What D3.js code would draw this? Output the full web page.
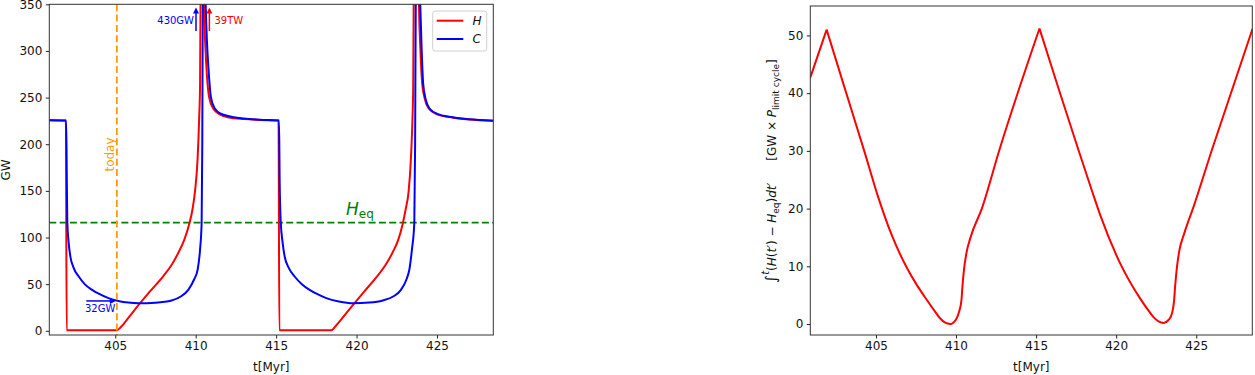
<!DOCTYPE html>
<html>
<head>
<meta charset="utf-8">
<script src="https://cdn.jsdelivr.net/npm/d3@7"></script>
<style>
  body { margin: 0; background: #fff; }
  svg { font-family: "DejaVu Sans", sans-serif; }
</style>
</head>
<body>
<svg id="graph"></svg>
<script>

var graphWidth = 1255;
var graphHeight = 375;

// tick values
var tTicks = [405, 410, 415, 420, 425];
var gwTicks = [0, 50, 100, 150, 200, 250, 300, 350];
var intTicks = [0, 10, 20, 30, 40, 50];

// H (red) in GW
var hTime = [400.9, 401.93, 401.98, 405.1, 405.35, 405.8, 406.44, 407.2, 408.0, 408.5, 408.93, 409.3, 409.59, 409.8, 409.96, 410.12, 410.22, 410.27, 410.3, 410.4, 410.52, 410.6, 410.7, 410.84, 411.1, 411.5, 412.0, 413.0, 414.0, 415.15,
             415.2, 418.43, 418.65, 419.2, 419.77, 420.5, 421.21, 421.8, 422.24, 422.6, 422.86, 423.05, 423.24, 423.38, 423.48, 423.52, 423.55, 423.72, 423.88, 423.96, 424.08, 424.25, 424.5, 425.0, 426.0, 427.0, 428.5];
var hPower = [225.6, 225.4, 0.5, 0.5, 4, 13.5, 27.5, 43, 59, 70.5, 84, 98, 114, 130, 150, 185, 230, 262, 350, 39000, 350, 305, 273, 250, 238, 232, 229, 227, 226, 225.4,
              0.5, 0.5, 4, 15.5, 27.5, 42.5, 57, 70.5, 84, 98, 114, 130, 150, 185, 230, 262, 350, 39000, 350, 305, 265, 248, 238, 232, 228.5, 226.5, 225.3];

// C (blue) in GW
var cTime = [400.9, 401.95, 401.99, 402.02, 402.1, 402.21, 402.4, 402.73, 403.1, 403.56, 404.0, 404.58, 405.2, 405.8, 406.44, 407.5, 408.5, 409.1, 409.54, 409.9, 410.12, 410.27, 410.37, 410.41, 410.44, 410.53, 410.62, 410.7, 410.8, 410.95, 411.2, 411.6, 412.0, 413.0, 414.0,
             415.18, 415.22, 415.29, 415.4, 415.53, 415.8, 416.15, 416.6, 417.08, 417.6, 418.12, 418.9, 419.77, 420.8, 421.63, 422.3, 422.76, 423.1, 423.28, 423.44, 423.59, 423.64, 423.68, 423.82, 423.96, 424.04, 424.14, 424.3, 424.55, 425.1, 425.75, 427.0, 428.5];
var cPower = [225.6, 225.4, 160, 116, 95, 79.6, 68, 58.2, 50, 43.9, 39.5, 35, 32, 30.3, 29.6, 30.2, 32.5, 37, 43.9, 55, 65.4, 86.8, 116, 200, 350, 430, 350, 310, 280, 250, 238, 232.5, 230.3, 227.6, 226.3,
              225.4, 160, 116, 95, 79.6, 67, 58.2, 50, 43.9, 39, 35, 31.5, 29.6, 30.3, 32.5, 37, 43.9, 55, 65.4, 86.8, 116, 200, 350, 430, 350, 305, 265, 248, 238, 232, 229.5, 226.8, 225.3];

// running integral of H - Heq (right panel)
var intTime = [400.9, 401.92, 403.0, 404.3, 405.15, 406.0, 406.92, 407.5, 408.17, 408.6, 409.0, 409.3, 409.63, 410.0, 410.2, 410.34, 410.4, 410.5, 410.65, 410.88, 411.61, 412.71, 415.21,
               416.4, 417.64, 418.45, 419.0, 420.25, 421.5, 422.0, 422.33, 422.65, 422.96, 423.3, 423.5, 423.62, 423.68, 423.8, 423.95, 424.25, 424.83, 425.98, 428.52];
var intValue = [42.7, 51.0, 41.3, 29.7, 21.9, 15.3, 9.8, 7.0, 4.2, 2.5, 1.0, 0.27, 0.0, 0.8, 2.2, 4.2, 6.5, 9.5, 12.3, 14.8, 20.0, 30.2, 51.2,
                40.8, 30.2, 23.4, 18.9, 10.5, 4.4, 2.4, 1.2, 0.45, 0.2, 0.8, 2.0, 4.2, 6.5, 10.0, 12.8, 15.7, 20.3, 30.2, 51.2];

var hEq = 116;
var today = 405.1;
var cPeakLabel = "430GW", hPeakLabel = "39TW", cMinLabel = "32GW";
var cMin = 32;

var graph = d3.select('#graph')
              .attr("width", graphWidth)
              .attr("height", graphHeight);

function zip(a, b) { return a.map(function(d, i) { return [d, b[i]]; }); }

/* draws one axes box with ticks, returns scales + clipped group */
function makeAxes(id, left, right, top, bottom, yDomain, yTicks) {
  var x = d3.scaleLinear().domain([400.9, 428.5]).range([left, right]);
  var y = d3.scaleLinear().domain(yDomain).range([bottom, top]);

  graph.append("clipPath").attr("id", id)
       .append("rect").attr("x", left).attr("y", top)
       .attr("width", right - left).attr("height", bottom - top);

  var xAxis = graph.append("g").attr("transform", "translate(0," + bottom + ")")
                   .call(d3.axisBottom(x).tickValues(tTicks).tickSize(3.5).tickPadding(3));
  var yAxis = graph.append("g").attr("transform", "translate(" + left + ",0)")
                   .call(d3.axisLeft(y).tickValues(yTicks).tickSize(3.5).tickPadding(3.5));
  [xAxis, yAxis].forEach(function(a) {
    a.select(".domain").remove();
    a.selectAll("text").attr("font-size", 12).attr("font-family", "DejaVu Sans").attr("fill", "#111");
    a.selectAll("line").attr("stroke", "#222");
  });

  var plot = graph.append("g").attr("clip-path", "url(#" + id + ")");
  return { x: x, y: y, plot: plot, left: left, right: right, top: top, bottom: bottom };
}

function frame(ax) {
  graph.append("rect").attr("x", ax.left).attr("y", ax.top)
       .attr("width", ax.right - ax.left).attr("height", ax.bottom - ax.top)
       .attr("fill", "none").attr("stroke", "#333").attr("stroke-width", 1);
}

function arrow(x1, y1, x2, y2, color) {
  var ang = Math.atan2(y2 - y1, x2 - x1), h = 6, w = 3;
  graph.append("line").attr("x1", x1).attr("y1", y1)
       .attr("x2", x2 - Math.cos(ang) * 2).attr("y2", y2 - Math.sin(ang) * 2)
       .attr("stroke", color).attr("stroke-width", 1.5);
  var p1 = [x2 - h * Math.cos(ang) + w * Math.sin(ang), y2 - h * Math.sin(ang) - w * Math.cos(ang)];
  var p2 = [x2 - h * Math.cos(ang) - w * Math.sin(ang), y2 - h * Math.sin(ang) + w * Math.cos(ang)];
  graph.append("path").attr("d", "M" + p1 + "L" + x2 + "," + y2 + "L" + p2 + "Z").attr("fill", color);
}

/* smooth between sharp peaks: split the series at its local maxima */
function peakedPath(line, pts) {
  var pieces = [], start = 0;
  for (var i = 1; i < pts.length - 1; i++) {
    if (pts[i][1] > pts[i - 1][1] && pts[i][1] > pts[i + 1][1]) {
      pieces.push(pts.slice(start, i + 1));
      start = i;
    }
  }
  pieces.push(pts.slice(start));
  return pieces.map(function(p) { return line(p); }).join("");
}

/* ---------------- left panel ---------------- */
var ax1 = makeAxes("clipL", 49.3, 493.3, 4.3, 335, [-4.5, 350], gwTicks);

var line1 = d3.line().x(function(d) { return ax1.x(d[0]); })
                     .y(function(d) { return ax1.y(d[1]); })
                     .curve(d3.curveMonotoneX);

ax1.plot.append("line")
   .attr("x1", ax1.left).attr("x2", ax1.right)
   .attr("y1", ax1.y(hEq)).attr("y2", ax1.y(hEq))
   .attr("stroke", "#008000").attr("stroke-width", 1.8).attr("stroke-dasharray", "7,3.3");

ax1.plot.append("path").datum(zip(hTime, hPower))
   .attr("d", line1).attr("fill", "none").attr("stroke", "#ff0000").attr("stroke-width", 2);
ax1.plot.append("path").datum(zip(cTime, cPower))
   .attr("d", line1).attr("fill", "none").attr("stroke", "#0000ff").attr("stroke-width", 2);

ax1.plot.append("line")
   .attr("x1", ax1.x(today)).attr("x2", ax1.x(today))
   .attr("y1", ax1.top).attr("y2", ax1.bottom)
   .attr("stroke", "#ff9a0a").attr("stroke-width", 1.8).attr("stroke-dasharray", "7,3.3");

frame(ax1);

graph.append("text").attr("transform", "translate(113.5,154.5) rotate(-90)")
     .attr("text-anchor", "middle").attr("font-size", 12).attr("fill", "#ff9a0a").text("today");

var heq = graph.append("text").attr("x", 346).attr("y", 215).attr("fill", "#008000").attr("font-size", 17);
heq.append("tspan").attr("font-style", "italic").text("H");
heq.append("tspan").attr("font-size", 12).attr("dy", 3).text("eq");

graph.append("text").attr("x", 9.5).attr("y", 170).attr("transform", "rotate(-90,9.5,170)")
     .attr("text-anchor", "middle").attr("font-size", 12).attr("fill", "#111").text("GW");
graph.append("text").attr("x", (ax1.left + ax1.right) / 2).attr("y", 371)
     .attr("text-anchor", "middle").attr("font-size", 12).attr("fill", "#111").text("t[Myr]");

// peak annotations
graph.append("text").attr("x", 194).attr("y", 24).attr("text-anchor", "end")
     .attr("font-size", 10).attr("fill", "#0000ff").text(cPeakLabel);
arrow(ax1.x(410.02), 31, ax1.x(410.02), 7.5, "#0000ff");
graph.append("text").attr("x", 214.5).attr("y", 24)
     .attr("font-size", 10).attr("fill", "#ff0000").text(hPeakLabel);
arrow(ax1.x(410.85), 31, ax1.x(410.85), 7.5, "#ff0000");
graph.append("text").attr("x", 85).attr("y", 311.5)
     .attr("font-size", 10).attr("fill", "#0000ff").text(cMinLabel);
arrow(ax1.x(403.2), ax1.y(cMin), ax1.x(today) - 1, ax1.y(cMin), "#0000ff");

// legend
var legend = graph.append("g");
legend.append("rect").attr("x", 432.7).attr("y", 11).attr("width", 54).attr("height", 40)
      .attr("rx", 2.5).attr("fill", "#fff").attr("fill-opacity", 0.8).attr("stroke", "#d0d0d0");
[["H", "#ff0000", 20.7], ["C", "#0000ff", 39]].forEach(function(d) {
  legend.append("line").attr("x1", 436.7).attr("x2", 463.3).attr("y1", d[2]).attr("y2", d[2])
        .attr("stroke", d[1]).attr("stroke-width", 2);
  legend.append("text").attr("x", 472.5).attr("y", d[2] + 4.4).attr("font-size", 12)
        .attr("font-style", "italic").attr("fill", "#111").text(d[0]);
});

/* ---------------- right panel ---------------- */
var ax2 = makeAxes("clipR", 810.3, 1252.3, 6, 335, [-1.9, 55.1], intTicks);

var line2 = d3.line().x(function(d) { return ax2.x(d[0]); })
                     .y(function(d) { return ax2.y(d[1]); })
                     .curve(d3.curveMonotoneX);

ax2.plot.append("path")
   .attr("d", peakedPath(line2, zip(intTime, intValue)))
   .attr("fill", "none").attr("stroke", "#ff0000").attr("stroke-width", 2);

frame(ax2);

graph.append("text").attr("x", (ax2.left + ax2.right) / 2).attr("y", 371)
     .attr("text-anchor", "middle").attr("font-size", 12).attr("fill", "#111").text("t[Myr]");

var ylab = graph.append("text").attr("transform", "translate(776,171) rotate(-90)")
                .attr("text-anchor", "middle").attr("font-size", 12).attr("fill", "#111");
ylab.append("tspan").attr("font-size", 15).text("∫");
ylab.append("tspan").attr("font-size", 10).attr("font-style", "italic").attr("dy", -7).text("t");
ylab.append("tspan").attr("dy", 7).text("(");
ylab.append("tspan").attr("font-style", "italic").text("H");
ylab.append("tspan").text("(");
ylab.append("tspan").attr("font-style", "italic").text("t′");
ylab.append("tspan").text(") − ");
ylab.append("tspan").attr("font-style", "italic").text("H");
ylab.append("tspan").attr("font-size", 9).attr("dy", 2.5).text("eq");
ylab.append("tspan").attr("dy", -2.5).text(")");
ylab.append("tspan").attr("font-style", "italic").text("dt′");
ylab.append("tspan").attr("dx", 22).text("[GW × ");
ylab.append("tspan").attr("font-style", "italic").text("P");
ylab.append("tspan").attr("font-size", 9).attr("dy", 2.5).text("limit cycle");
ylab.append("tspan").attr("dy", -2.5).text("]");

</script>
</body>
</html>
